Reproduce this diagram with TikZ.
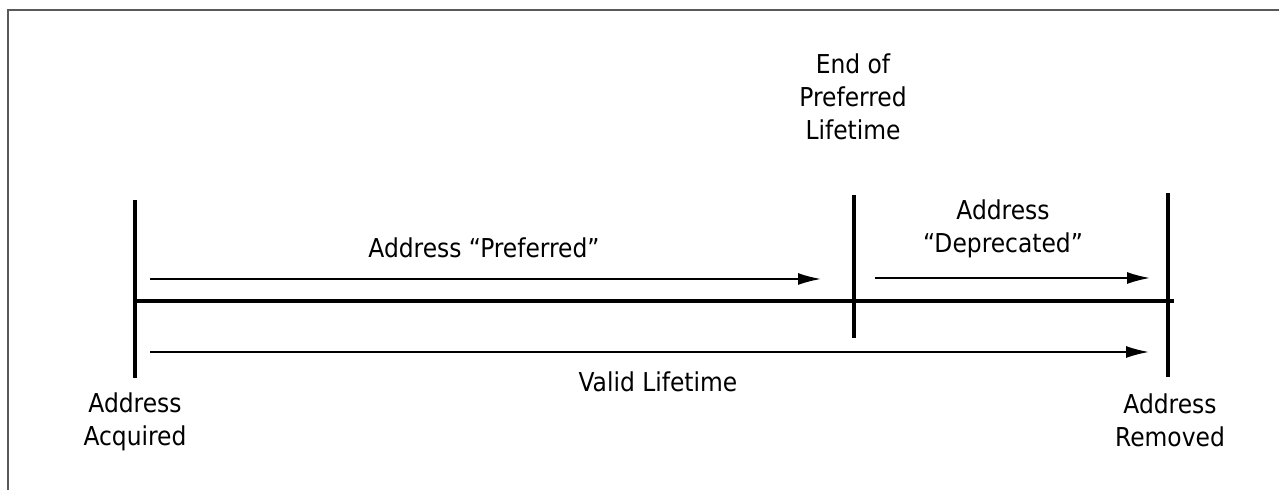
\documentclass[tikz,border=0pt]{standalone}
\usepackage{fontspec}
\setmainfont{DejaVu Sans Condensed}
\usetikzlibrary{arrows.meta}
\begin{document}
\begin{tikzpicture}[x=0.5pt,y=-0.5pt,
  lbl/.style={align=center, inner sep=0pt, font=\fontsize{13}{16.5}\selectfont},
  tick/.style={line width=1.7pt},
  span/.style={line width=0.9pt, -{Latex[length=11.5pt,width=6pt]}}]
\useasboundingbox (0,0) rectangle (1279,490);
\draw[gray!70!black, line width=0.8pt] (8,490) -- (8,10) -- (1279,10);
\coordinate (acqtop) at (135,200);
\coordinate (acqbot) at (135,378);
\coordinate (endtop) at (854,195);
\coordinate (endbot) at (854,338);
\coordinate (remtop) at (1168,193);
\coordinate (rembot) at (1168,377);
\coordinate (linel) at (135,301);
\coordinate (liner) at (1174,301);
\draw[tick] (acqtop) -- (acqbot);
\draw[tick] (endtop) -- (endbot);
\draw[tick] (remtop) -- (rembot);
\draw[tick] (linel) -- (liner);
\coordinate (prefl) at (150,279);
\coordinate (prefr) at (821,279);
\coordinate (depl) at (875,278);
\coordinate (depr) at (1150,278);
\coordinate (validl) at (150,352);
\coordinate (validr) at (1149,352);
\draw[span] (prefl) -- (prefr);
\draw[span] (depl) -- (depr);
\draw[span] (validl) -- (validr);
\node[lbl] (acq) at (135,422) {Address\\Acquired};
\node[lbl] (rem) at (1170,420) {Address\\Removed};
\node[lbl] (valid) at (658,382) {Valid Lifetime};
\node[lbl] (pref) at (484,248) {Address “Preferred”};
\node[lbl] (dep) at (1003,229) {Address\\“Deprecated”};
\node[lbl] (endpref) at (853,97) {End of\\Preferred\\Lifetime};
\end{tikzpicture}
\end{document}
